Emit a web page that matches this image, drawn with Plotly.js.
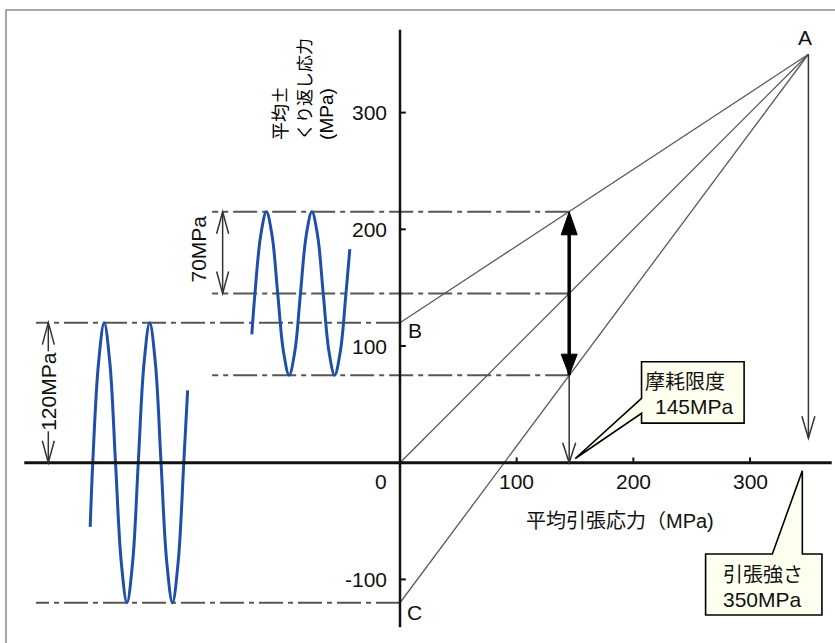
<!DOCTYPE html>
<html><head><meta charset="utf-8">
<script src="https://cdn.plot.ly/plotly-3.0.1.min.js"></script>
<style>html,body{margin:0;padding:0;background:#fff;}#chart{width:835px;height:643px;}</style>
</head><body><div id="chart"></div>
<script>
// ---- data ----
const xTickVals = [100, 200, 300];
const yTickVals = [-100, 100, 200, 300];
const pointA = [350, 350];
const pointB = [0, 120];
const pointO = [0, 0];
const pointC = [0, -120];
const enduranceMean = 145;            // 摩耗限度 145MPa
const tensileStrength = 350;          // 引張強さ 350MPa
const upperLevels = [215, 145, 75];   // mean 145 ± 70
const reversedLevels = [120, -120];   // 0 ± 120
// fully reversed wave (amplitude 120)
const waveLX = [-265.5,-263.3,-258.4,-253.5,-248.6,-243.8,-238.9,-234,-229.1,-224.3,-219.4,-214.5,-209.6,-204.8,-199.9,-195,-190.1,-185.3,-182];
const waveLY = [-55,0,85,120,85,0,-85,-120,-85,0,85,120,85,0,-85,-120,-85,0,62];
// wave at mean 145, amplitude 70
const waveUX = [-127,-124.3,-119.4,-114.5,-109.6,-104.8,-99.9,-95,-90.1,-85.3,-80.4,-75.5,-70.6,-65.8,-60.9,-56,-51.1,-46.3,-43];
const waveUY = [110,145,194.5,215,194.5,145,95.5,75,95.5,145,194.5,215,194.5,145,95.5,75,95.5,145,183];

// ---- styles ----
const LAT = 'Liberation Sans, Arial, Noto Sans CJK JP, sans-serif';
const CJK = 'Noto Sans CJK JP, Liberation Sans, sans-serif';
const BLUE = '#1f4fa6';
const GREY = '#5b5550';
const DASH = '24px,5px,5px,5px';

const traces = [
  {x:[pointA[0],pointB[0]], y:[pointA[1],pointB[1]], mode:'lines', line:{color:'#5a5a5a', width:1.3}},
  {x:[pointA[0],pointO[0]], y:[pointA[1],pointO[1]], mode:'lines', line:{color:'#5a5a5a', width:1.3}},
  {x:[pointA[0],pointC[0]], y:[pointA[1],pointC[1]], mode:'lines', line:{color:'#5a5a5a', width:1.3}},
  {x:waveLX, y:waveLY, mode:'lines', line:{color:BLUE, width:3, shape:'spline', smoothing:1}},
  {x:waveUX, y:waveUY, mode:'lines', line:{color:BLUE, width:3, shape:'spline', smoothing:1}}
];

const shapes = [];
// figure frame
shapes.push({type:'rect', xref:'paper', yref:'paper', x0:0.0072, x1:1.02, y0:-0.02, y1:0.9844,
  line:{color:'#8a8a8a', width:1.5}, layer:'below'});
// dash-dot levels
upperLevels.forEach(v => shapes.push({type:'line', x0:enduranceMean, x1:-161, y0:v, y1:v,
  line:{color:GREY, width:2, dash:DASH}, layer:'below'}));
reversedLevels.forEach(v => shapes.push({type:'line', x0:0, x1:-312, y0:v, y1:v,
  line:{color:GREY, width:2, dash:DASH}, layer:'below'}));
// axes
shapes.push({type:'line', x0:-322, x1:370, y0:0, y1:0, line:{color:'#111', width:3}});
shapes.push({type:'line', x0:0, x1:0, y0:-141, y1:371, line:{color:'#111', width:2.5}});
xTickVals.forEach(v => shapes.push({type:'line', x0:v, x1:v, y0:0, y1:4.5, line:{color:'#111', width:2}}));
yTickVals.forEach(v => shapes.push({type:'line', x0:0, x1:5, y0:v, y1:v, line:{color:'#111', width:2}}));
// dimension lines
shapes.push({type:'line', x0:-152, x1:-152, y0:upperLevels[1], y1:upperLevels[0], line:{color:'#333', width:1.5}});
shapes.push({type:'line', x0:-301.4, x1:-301.4, y0:0, y1:reversedLevels[0], line:{color:'#333', width:1.5}});
// 145 arrow
shapes.push({type:'line', x0:enduranceMean, x1:enduranceMean, y0:upperLevels[2], y1:upperLevels[0]-8, line:{color:'#000', width:3.5}});
shapes.push({type:'line', x0:enduranceMean, x1:enduranceMean, y0:0, y1:upperLevels[2], line:{color:'#333', width:1.5}});
// A vertical arrow
shapes.push({type:'line', x0:tensileStrength, x1:tensileStrength, y0:21, y1:pointA[1], line:{color:'#333', width:1.5}});

function vHead(x, y, dir, h, w) {
  const s = dir > 0 ? -1 : 1;
  shapes.push({type:'path', xsizemode:'pixel', ysizemode:'pixel', xanchor:x, yanchor:y,
    path:`M${-w},${s*h} L0,0 L${w},${s*h}`, line:{color:'#333', width:1.5}});
}
function fHead(x, y, dir, h, w) {
  const s = dir > 0 ? -1 : 1;
  shapes.push({type:'path', xsizemode:'pixel', ysizemode:'pixel', xanchor:x, yanchor:y,
    path:`M${-w},${s*h} L0,0 L${w},${s*h} Z`, fillcolor:'#000', line:{color:'#000', width:1}});
}
vHead(-152, upperLevels[0], 1, 22, 6);
vHead(-152, upperLevels[1], -1, 22, 6);
vHead(-301.4, reversedLevels[0], 1, 22, 6);
vHead(-301.4, 0, -1, 22, 6);
vHead(enduranceMean, 0, -1, 20, 6.5);
vHead(tensileStrength, 21, -1, 22, 6.5);
fHead(enduranceMean, upperLevels[0], 1, 23, 8);
fHead(enduranceMean, upperLevels[2], -1, 21, 8);

// callouts
shapes.push({type:'path', path:'M207,86.5 L294.9,86.5 L294.9,33.9 L207,33.9 L207,42.3 L150.2,3.6 L207,55.2 Z',
  fillcolor:'#fffff0', line:{color:'#000', width:1.6}});
shapes.push({type:'path', path:'M261.9,-78.2 L319.1,-78.2 L344.8,-6.9 L344.8,-78.2 L361.6,-78.2 L361.6,-130.5 L261.9,-130.5 Z',
  fillcolor:'#fffff0', line:{color:'#000', width:1.6}});

const ann = [];
function txt(t, x, y, o) {
  ann.push(Object.assign({text:t, x:x, y:y, xref:'x', yref:'y', showarrow:false, borderpad:0,
    font:{family:LAT, size:21, color:'#111'}}, o||{}));
}
yTickVals.forEach(v => txt(String(v), -10.3, v, {xanchor:'right'}));
txt('0', -10.5, -16.5, {xanchor:'right'});
xTickVals.forEach(v => txt(String(v), v, -16.5));
txt('A', 347, 364.3); txt('B', 12.6, 113.7); txt('C', 12.8, -128.4);
txt('70MPa', -172.8, 183, {textangle:-90});
txt('120MPa', -301.4, 61, {textangle:-90, bgcolor:'#fff'});
txt('平均引張応力（MPa)', 188.5, -49.6, {font:{family:LAT, size:20, color:'#111'}});
txt('平均±', -103.7, 275.7, {textangle:-90, yanchor:'bottom', font:{family:CJK, size:18, color:'#000'}});
txt('くり返し応力', -82.3, 275.7, {textangle:-90, yanchor:'bottom', font:{family:CJK, size:17, color:'#000'}});
txt('(MPa)', -62.6, 275.7, {textangle:-90, yanchor:'bottom', font:{family:LAT, size:19, color:'#000'}});
txt('摩耗限度', 244.5, 69.4, {font:{family:LAT, size:20, color:'#111'}});
txt('145MPa', 252, 48);
txt('引張強さ', 275.6, -96.2, {xanchor:'left', font:{family:LAT, size:20, color:'#111'}});
txt('350MPa', 275.6, -117, {xanchor:'left'});

const layout = {
  width:835, height:643, margin:{l:0, r:0, t:0, b:0},
  paper_bgcolor:'#fff', plot_bgcolor:'#fff', showlegend:false,
  xaxis:{range:[-342.8, 372.8], visible:false, fixedrange:true},
  yaxis:{range:[-154.5, 396.5], visible:false, fixedrange:true},
  shapes:shapes, annotations:ann, hovermode:false
};
Plotly.newPlot('chart', traces, layout, {displayModeBar:false, staticPlot:true});
</script></body></html>
